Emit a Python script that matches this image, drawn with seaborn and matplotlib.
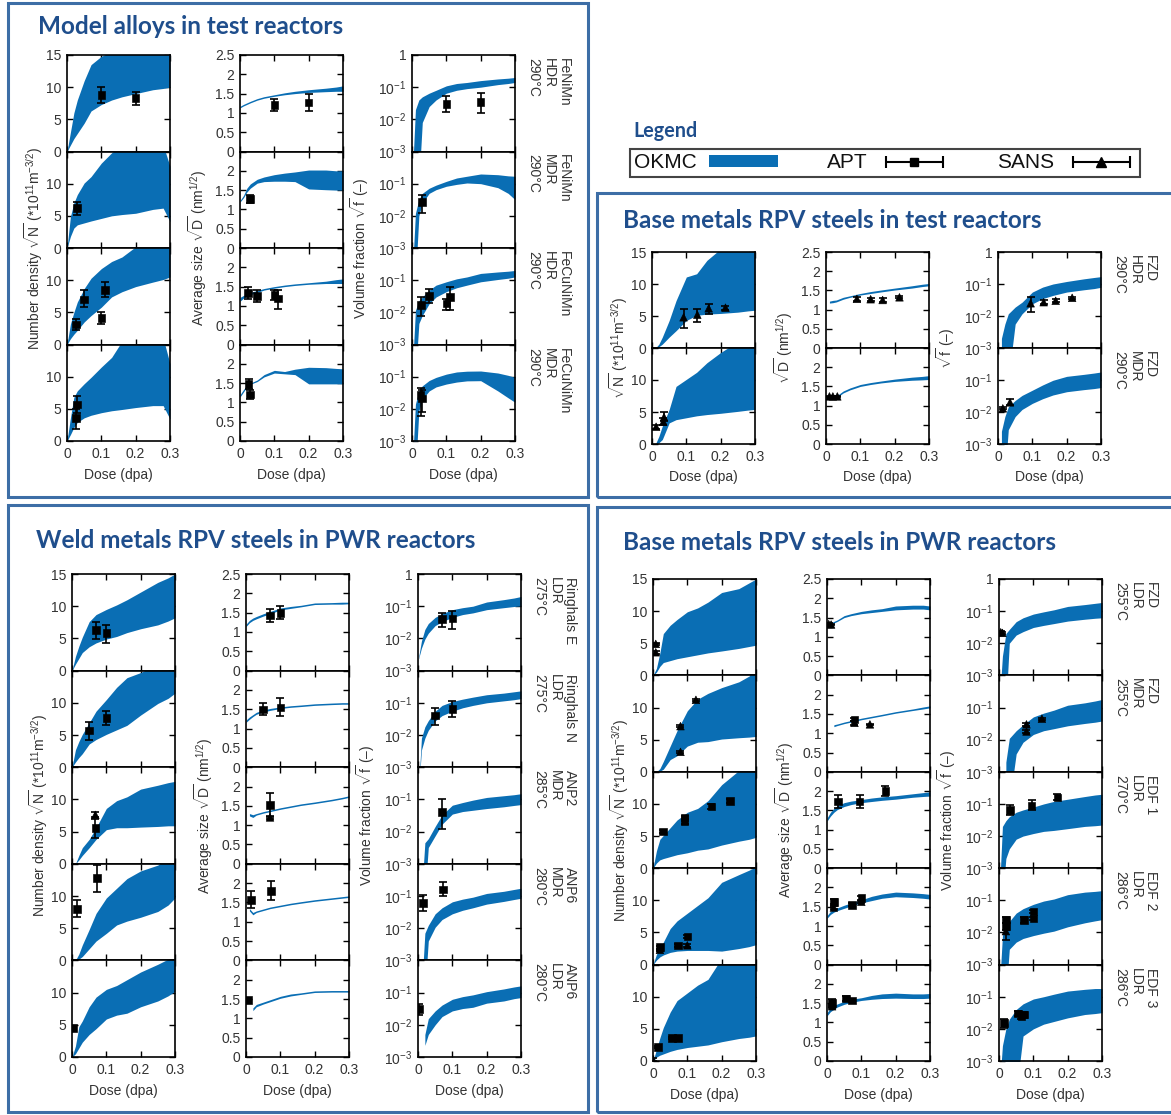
import numpy as np
import pandas as pd
import seaborn as sns
import matplotlib.pyplot as plt
from matplotlib.patches import Patch, Rectangle
from matplotlib.lines import Line2D
from matplotlib.legend_handler import HandlerLine2D, HandlerTuple
from matplotlib.ticker import NullLocator

nan = float("nan")

# dose grid shared by every OKMC band (dpa)
DOSE = [0, 0.01, 0.02, 0.03, 0.05, 0.07, 0.1, 0.13, 0.16, 0.2, 0.25, 0.28, 0.3]

MODEL_ROWS = ["FeNiMn HDR", "FeNiMn MDR", "FeCuNiMn HDR", "FeCuNiMn MDR"]
BASE_TEST_ROWS = ["FZD HDR 290", "FZD MDR 290"]
WELD_ROWS = ["Ringhals E", "Ringhals N", "ANP2 MDR", "ANP6 MDR", "ANP6 LDR"]
BASE_PWR_ROWS = ["FZD LDR 255", "FZD MDR 255", "EDF 1", "EDF 2", "EDF 3"]

ROW_LABELS = {
    "FeNiMn HDR": "FeNiMn\nHDR\n290°C",
    "FeNiMn MDR": "FeNiMn\nMDR\n290°C",
    "FeCuNiMn HDR": "FeCuNiMn\nHDR\n290°C",
    "FeCuNiMn MDR": "FeCuNiMn\nMDR\n290°C",
    "FZD HDR 290": "FZD\nHDR\n290°C",
    "FZD MDR 290": "FZD\nMDR\n290°C",
    "Ringhals E": "Ringhals E\nLDR\n275°C",
    "Ringhals N": "Ringhals N\nLDR\n275°C",
    "ANP2 MDR": "ANP2\nMDR\n285°C",
    "ANP6 MDR": "ANP6\nMDR\n280°C",
    "ANP6 LDR": "ANP6\nLDR\n280°C",
    "FZD LDR 255": "FZD\nLDR\n255°C",
    "FZD MDR 255": "FZD\nMDR\n255°C",
    "EDF 1": "EDF 1\nLDR\n270°C",
    "EDF 2": "EDF 2\nLDR\n286°C",
    "EDF 3": "EDF 3\nLDR\n286°C",
}

# OKMC number density band sqrt(N) (*1e11 m^-3/2)
N_LOW = {
    "FeNiMn HDR": [0, 1.0, 2.0, 2.8, 4.4, 6.3, 7.3, 8.0, 8.5, 9.0, 9.6, 9.8, 10.0],
    "FeNiMn MDR": [0, 1.8, 3.1, 3.6, 3.9, 4.2, 4.6, 5.0, 5.2, 5.4, 6.0, 6.2, 4.1],
    "FeCuNiMn HDR": [0, 0.9, 1.6, 2.2, 3.5, 4.5, 5.8, 7.4, 8.2, 9.0, 9.7, 10.1, 10.5],
    "FeCuNiMn MDR": [0, 1.0, 2.1, 2.9, 3.6, 4.0, 4.4, 4.7, 4.9, 5.2, 5.5, 5.5, 3.4],
    "FZD HDR 290": [0, 0, 0.2, 0.6, 1.7, 2.7, 4.3, 5.1, 5.3, 5.4, 5.6, 5.8, 5.9],
    "FZD MDR 290": [0, 0, 0.2, 0.7, 3.3, 3.8, 4.1, 4.4, 4.6, 4.8, 5.1, 5.3, 5.4],
    "Ringhals E": [0, 1.0, 1.9, 2.8, 3.7, 4.3, 4.9, 5.3, 5.9, 6.5, 7.1, 7.7, 8.2],
    "Ringhals N": [0, 0.8, 1.5, 2.1, 3.6, 4.3, 5.1, 5.8, 6.5, 8.1, 9.9, 10.7, 11.5],
    "ANP2 MDR": [0, 0, 0.6, 1.3, 2.5, 3.8, 5.3, 5.6, 5.6, 5.7, 5.8, 5.9, 5.9],
    "ANP6 MDR": [0, 0, 0.2, 0.6, 1.8, 3.0, 4.2, 5.5, 6.1, 6.7, 7.6, 8.6, 9.7],
    "ANP6 LDR": [0, 0.5, 1.4, 2.3, 3.5, 4.4, 5.9, 6.5, 6.8, 7.8, 8.7, 9.5, 10.2],
    "FZD LDR 255": [0, 0.5, 1.4, 2.0, 2.3, 2.6, 2.9, 3.2, 3.5, 3.8, 4.2, 4.5, 4.7],
    "FZD MDR 255": [0, 0, 0.1, 0.4, 1.9, 2.5, 4.0, 4.6, 4.7, 5.1, 5.3, 5.4, 5.5],
    "EDF 1": [0, 0.8, 1.3, 1.5, 1.8, 2.1, 2.4, 2.8, 3.0, 3.6, 4.2, 4.5, 4.8],
    "EDF 2": [0, 0.7, 1.2, 1.5, 1.9, 2.1, 2.2, 2.2, 2.2, 2.1, 2.5, 2.8, 3.1],
    "EDF 3": [0, 0.6, 0.9, 1.1, 1.5, 1.8, 2.1, 2.3, 2.5, 3.0, 3.5, 3.7, 3.9],
}
N_HIGH = {
    "FeNiMn HDR": [0, 3.0, 6.0, 8.0, 11.0, 13.5, 14.8, 15.5, 16, 16, 16, 16, 16],
    "FeNiMn MDR": [0, 4.9, 7.0, 8.3, 10.1, 11.1, 13.2, 14.8, 16, 16, 16, 16, 12.7],
    "FeCuNiMn HDR": [0, 3.2, 5.0, 6.6, 8.7, 10.3, 11.8, 12.9, 13.6, 15.2, 16, 16, 16],
    "FeCuNiMn MDR": [0, 3.6, 6.8, 7.8, 8.9, 9.9, 11.5, 13.0, 15.5, 16, 16, 16, 12.0],
    "FZD HDR 290": [0, 0, 0.6, 1.7, 4.3, 7.4, 11.1, 11.6, 13.7, 15.5, 16, 16, 16],
    "FZD MDR 290": [0, 0, 1.2, 2.8, 5.4, 9.0, 10.1, 11.2, 12.7, 14.3, 16, 16, 16],
    "Ringhals E": [0, 2.2, 3.8, 5.2, 7.6, 8.7, 9.5, 10.2, 11.0, 12.2, 13.7, 14.4, 15.0],
    "Ringhals N": [0, 2.7, 4.0, 5.1, 6.9, 8.7, 10.5, 12.4, 13.9, 14.7, 16, 16, 16],
    "ANP2 MDR": [0, 0, 1.3, 2.5, 3.8, 5.6, 8.6, 9.8, 10.4, 11.6, 12.2, 12.6, 12.8],
    "ANP6 MDR": [0, 0, 1.0, 2.4, 4.8, 7.3, 9.7, 11.2, 12.7, 13.9, 14.8, 16, 16],
    "ANP6 LDR": [0, 1.7, 4.7, 5.6, 7.8, 9.3, 10.5, 11.1, 12.0, 13.2, 14.4, 15.2, 16],
    "FZD LDR 255": [0, 1.1, 3.5, 6.5, 7.8, 8.7, 9.9, 10.5, 11.4, 12.9, 13.5, 14.4, 15.0],
    "FZD MDR 255": [0, 0, 0.5, 1.6, 4.0, 6.4, 9.5, 11.3, 12.2, 13.1, 14.0, 14.9, 16],
    "EDF 1": [0, 2.7, 4.5, 5.1, 6.3, 7.5, 8.7, 9.3, 10.5, 13.0, 15.2, 16, 16],
    "EDF 2": [0, 1.6, 2.5, 3.5, 5.6, 6.8, 8.0, 9.2, 10.4, 12.8, 14.0, 14.7, 15.2],
    "EDF 3": [0, 1.8, 3.6, 5.2, 7.6, 9.4, 10.6, 11.8, 12.7, 16, 16, 16, 16],
}

# OKMC average size band sqrt(D) (nm^1/2)
D_LOW = {
    "FeNiMn HDR": [1.13, 1.18, 1.22, 1.26, 1.33, 1.38, 1.43, 1.47, 1.50, 1.53, 1.55, 1.56, 1.56],
    "FeNiMn MDR": [1.19, 1.30, 1.45, 1.55, 1.68, 1.72, 1.73, 1.73, 1.72, 1.53, 1.51, 1.50, 1.50],
    "FeCuNiMn HDR": [1.12, 1.20, 1.25, 1.29, 1.35, 1.41, 1.46, 1.50, 1.53, 1.56, 1.58, 1.58, 1.58],
    "FeCuNiMn MDR": [1.14, 1.27, 1.40, 1.47, 1.54, 1.66, 1.76, 1.74, 1.72, 1.48, 1.48, 1.48, 1.48],
    "FZD HDR 290": [nan, 1.17, 1.18, 1.20, 1.27, 1.32, 1.38, 1.42, 1.46, 1.51, 1.56, 1.60, 1.62],
    "FZD MDR 290": [nan, nan, nan, 1.20, 1.33, 1.41, 1.50, 1.55, 1.59, 1.63, 1.66, 1.67, 1.68],
    "Ringhals E": [1.14, 1.24, 1.30, 1.34, 1.41, 1.47, 1.57, 1.61, 1.65, 1.71, 1.72, 1.72, 1.73],
    "Ringhals N": [1.16, 1.24, 1.31, 1.37, 1.43, 1.47, 1.52, 1.55, 1.57, 1.60, 1.62, 1.63, 1.63],
    "ANP2 MDR": [nan, 1.24, 1.20, 1.26, 1.31, 1.35, 1.41, 1.46, 1.51, 1.56, 1.63, 1.68, 1.72],
    "ANP6 MDR": [nan, 1.28, 1.18, 1.24, 1.29, 1.34, 1.39, 1.44, 1.48, 1.53, 1.58, 1.61, 1.63],
    "ANP6 LDR": [nan, nan, 1.20, 1.30, 1.37, 1.43, 1.52, 1.58, 1.62, 1.67, 1.68, 1.68, 1.68],
    "FZD LDR 255": [1.27, 1.32, 1.36, 1.40, 1.50, 1.55, 1.60, 1.63, 1.66, 1.70, 1.72, 1.72, 1.70],
    "FZD MDR 255": [nan, nan, 1.17, 1.20, 1.25, 1.29, 1.35, 1.40, 1.45, 1.52, 1.59, 1.63, 1.66],
    "EDF 1": [1.22, 1.35, 1.45, 1.52, 1.60, 1.65, 1.70, 1.73, 1.76, 1.79, 1.84, 1.86, 1.87],
    "EDF 2": [1.20, 1.30, 1.36, 1.40, 1.46, 1.52, 1.60, 1.66, 1.72, 1.76, 1.74, 1.72, 1.70],
    "EDF 3": [1.17, 1.28, 1.34, 1.40, 1.47, 1.52, 1.57, 1.60, 1.62, 1.63, 1.62, 1.62, 1.63],
}
D_HIGH = {
    "FeNiMn HDR": [1.17, 1.22, 1.26, 1.30, 1.37, 1.42, 1.47, 1.52, 1.56, 1.60, 1.64, 1.67, 1.70],
    "FeNiMn MDR": [1.23, 1.36, 1.55, 1.66, 1.78, 1.84, 1.90, 1.94, 1.97, 2.02, 2.02, 2.00, 2.00],
    "FeCuNiMn HDR": [1.22, 1.27, 1.31, 1.35, 1.40, 1.45, 1.50, 1.54, 1.57, 1.60, 1.64, 1.68, 1.70],
    "FeCuNiMn MDR": [1.20, 1.33, 1.45, 1.50, 1.58, 1.72, 1.83, 1.80, 1.86, 1.91, 1.90, 1.88, 1.87],
    "FZD HDR 290": [nan, 1.22, 1.24, 1.25, 1.32, 1.36, 1.42, 1.47, 1.51, 1.56, 1.62, 1.66, 1.68],
    "FZD MDR 290": [nan, nan, nan, 1.25, 1.38, 1.46, 1.55, 1.60, 1.64, 1.69, 1.74, 1.76, 1.78],
    "Ringhals E": [1.20, 1.30, 1.36, 1.40, 1.47, 1.53, 1.62, 1.66, 1.69, 1.75, 1.76, 1.77, 1.77],
    "Ringhals N": [1.22, 1.30, 1.36, 1.42, 1.48, 1.52, 1.56, 1.59, 1.61, 1.64, 1.66, 1.67, 1.67],
    "ANP2 MDR": [nan, 1.30, 1.27, 1.30, 1.35, 1.39, 1.45, 1.50, 1.55, 1.60, 1.67, 1.72, 1.76],
    "ANP6 MDR": [nan, 1.34, 1.24, 1.28, 1.33, 1.38, 1.43, 1.48, 1.52, 1.57, 1.62, 1.65, 1.67],
    "ANP6 LDR": [nan, nan, 1.27, 1.36, 1.42, 1.48, 1.57, 1.63, 1.66, 1.71, 1.72, 1.72, 1.72],
    "FZD LDR 255": [1.31, 1.36, 1.40, 1.44, 1.55, 1.60, 1.66, 1.70, 1.73, 1.80, 1.82, 1.82, 1.80],
    "FZD MDR 255": [nan, nan, 1.22, 1.24, 1.29, 1.33, 1.39, 1.44, 1.49, 1.56, 1.63, 1.68, 1.71],
    "EDF 1": [1.30, 1.45, 1.55, 1.62, 1.70, 1.74, 1.78, 1.82, 1.85, 1.88, 1.93, 1.96, 1.98],
    "EDF 2": [1.27, 1.38, 1.44, 1.47, 1.54, 1.60, 1.68, 1.77, 1.83, 1.88, 1.86, 1.84, 1.82],
    "EDF 3": [1.25, 1.38, 1.44, 1.48, 1.55, 1.60, 1.64, 1.70, 1.74, 1.76, 1.74, 1.74, 1.75],
}

# OKMC volume fraction band sqrt(f) (-)
F_LOW = {
    "FeNiMn HDR": [1e-4, 1e-4, 1e-4, 0.008, 0.025, 0.04, 0.065, 0.08, 0.09, 0.10, 0.12, 0.13, 0.14],
    "FeNiMn MDR": [1e-4, 1e-4, 0.010, 0.025, 0.05, 0.065, 0.083, 0.095, 0.105, 0.10, 0.075, 0.05, 0.032],
    "FeCuNiMn HDR": [1e-4, 1e-4, 0.0045, 0.008, 0.0186, 0.03, 0.044, 0.058, 0.07, 0.089, 0.105, 0.115, 0.126],
    "FeCuNiMn MDR": [1e-4, 1e-4, 0.0087, 0.02, 0.036, 0.048, 0.059, 0.068, 0.074, 0.075, 0.036, 0.022, 0.016],
    "FZD HDR 290": [nan, 1e-4, 1e-4, 1e-4, 0.0056, 0.0117, 0.024, 0.035, 0.044, 0.056, 0.066, 0.072, 0.079],
    "FZD MDR 290": [nan, 1e-4, 1e-4, 0.0028, 0.0072, 0.012, 0.0186, 0.026, 0.034, 0.043, 0.05, 0.054, 0.058],
    "Ringhals E": [0.002, 0.005, 0.0095, 0.0145, 0.025, 0.033, 0.045, 0.055, 0.062, 0.078, 0.09, 0.098, 0.102],
    "Ringhals N": [1e-4, 0.0034, 0.008, 0.014, 0.0275, 0.04, 0.055, 0.07, 0.083, 0.10, 0.115, 0.125, 0.135],
    "ANP2 MDR": [nan, 1e-4, 1e-4, 0.0032, 0.0074, 0.017, 0.035, 0.042, 0.046, 0.052, 0.059, 0.065, 0.069],
    "ANP6 MDR": [nan, 1e-4, 1e-4, 0.004, 0.0107, 0.0186, 0.028, 0.036, 0.043, 0.056, 0.068, 0.078, 0.085],
    "ANP6 LDR": [nan, nan, 0.0023, 0.005, 0.010, 0.018, 0.027, 0.032, 0.035, 0.047, 0.055, 0.065, 0.07],
    "FZD LDR 255": [1e-4, 1e-4, 1e-4, 0.010, 0.018, 0.023, 0.031, 0.036, 0.041, 0.049, 0.056, 0.06, 0.062],
    "FZD MDR 255": [nan, nan, 1e-4, 1e-4, 0.0036, 0.0083, 0.0145, 0.019, 0.022, 0.027, 0.032, 0.035, 0.038],
    "EDF 1": [1e-4, 1e-4, 0.002, 0.004, 0.008, 0.010, 0.012, 0.014, 0.015, 0.017, 0.020, 0.021, 0.022],
    "EDF 2": [1e-4, 1e-4, 1e-4, 0.003, 0.005, 0.0065, 0.008, 0.0095, 0.011, 0.015, 0.020, 0.023, 0.025],
    "EDF 3": [1e-4, 1e-4, 1e-4, 1e-4, 1e-4, 0.006, 0.010, 0.014, 0.017, 0.022, 0.028, 0.030, 0.032],
}
F_HIGH = {
    "FeNiMn HDR": [1e-4, 0.02, 0.04, 0.05, 0.065, 0.08, 0.11, 0.13, 0.14, 0.16, 0.18, 0.19, 0.20],
    "FeNiMn MDR": [1e-4, 0.012, 0.032, 0.05, 0.072, 0.09, 0.118, 0.15, 0.17, 0.20, 0.19, 0.175, 0.17],
    "FeCuNiMn HDR": [1e-4, 0.0115, 0.023, 0.03, 0.049, 0.07, 0.089, 0.11, 0.126, 0.162, 0.18, 0.19, 0.20],
    "FeCuNiMn MDR": [1e-4, 0.014, 0.036, 0.052, 0.076, 0.095, 0.12, 0.14, 0.148, 0.15, 0.13, 0.11, 0.095],
    "FZD HDR 290": [nan, 0.002, 0.0056, 0.0117, 0.019, 0.027, 0.056, 0.08, 0.10, 0.12, 0.145, 0.16, 0.17],
    "FZD MDR 290": [nan, 0.0025, 0.0072, 0.0145, 0.023, 0.033, 0.048, 0.07, 0.098, 0.13, 0.15, 0.165, 0.178],
    "Ringhals E": [0.002, 0.0083, 0.019, 0.029, 0.045, 0.059, 0.078, 0.09, 0.10, 0.135, 0.16, 0.18, 0.20],
    "Ringhals N": [1e-4, 0.008, 0.018, 0.028, 0.055, 0.083, 0.11, 0.13, 0.15, 0.178, 0.20, 0.22, 0.235],
    "ANP2 MDR": [nan, 1e-4, 0.0045, 0.006, 0.0145, 0.033, 0.066, 0.08, 0.095, 0.115, 0.13, 0.14, 0.15],
    "ANP6 MDR": [nan, 1e-4, 0.007, 0.0123, 0.028, 0.043, 0.066, 0.08, 0.092, 0.12, 0.14, 0.16, 0.174],
    "ANP6 LDR": [nan, nan, 0.005, 0.0155, 0.027, 0.041, 0.062, 0.075, 0.085, 0.107, 0.13, 0.15, 0.162],
    "FZD LDR 255": [1e-4, 0.004, 0.02, 0.027, 0.047, 0.062, 0.081, 0.095, 0.11, 0.14, 0.16, 0.175, 0.186],
    "FZD MDR 255": [nan, nan, 0.002, 0.011, 0.019, 0.029, 0.051, 0.067, 0.083, 0.118, 0.14, 0.16, 0.178],
    "EDF 1": [1e-4, 0.02, 0.03, 0.04, 0.055, 0.065, 0.08, 0.10, 0.12, 0.14, 0.17, 0.19, 0.20],
    "EDF 2": [1e-4, 0.008, 0.015, 0.022, 0.04, 0.055, 0.075, 0.095, 0.11, 0.15, 0.18, 0.19, 0.20],
    "EDF 3": [1e-4, 0.003, 0.01, 0.02, 0.04, 0.06, 0.085, 0.10, 0.12, 0.15, 0.17, 0.18, 0.18],
}

# measurements: (dose, value, error low, error high)
APT_N = {
    "FeNiMn HDR": [(0.1, 8.8, 7.5, 10.1), (0.2, 8.3, 7.3, 9.3)],
    "FeNiMn MDR": [(0.03, 6.2, 5.2, 7.1)],
    "FeCuNiMn HDR": [(0.026, 3.1, 2.2, 4.0), (0.05, 7.0, 5.8, 8.4), (0.1, 4.1, 3.2, 5.1), (0.11, 8.5, 7.4, 9.7)],
    "FeCuNiMn MDR": [(0.027, 3.6, 1.9, 5.0), (0.03, 5.7, 4.4, 7.0)],
    "Ringhals E": [(0.07, 6.3, 4.9, 7.6), (0.1, 5.8, 4.3, 7.1)],
    "Ringhals N": [(0.05, 5.7, 4.2, 7.0), (0.1, 7.6, 6.6, 8.7)],
    "ANP2 MDR": [(0.068, 5.6, 4.0, 7.0)],
    "ANP6 MDR": [(0.015, 8.0, 6.7, 9.4), (0.072, 12.8, 10.6, 14.8)],
    "ANP6 LDR": [(0.003, 4.5, 4.2, 4.8)],
    "EDF 1": [(0.03, 5.7, 5.4, 6.0), (0.092, 7.3, 6.9, 7.7), (0.092, 7.9, 7.6, 8.2),
              (0.17, 9.6, 9.2, 10.0), (0.225, 10.5, 10.2, 10.8)],
    "EDF 2": [(0.02, 2.7, 2.5, 2.9), (0.072, 3.0, 2.8, 3.2), (0.1, 4.4, 4.2, 4.6)],
    "EDF 3": [(0.015, 2.2, 2.0, 2.4), (0.055, 3.6, 3.4, 3.8), (0.072, 3.6, 3.4, 3.8)],
}
SANS_N = {
    "FZD HDR 290": [(0.092, 4.8, 3.2, 6.1), (0.132, 5.2, 4.0, 6.1), (0.165, 6.2, 5.3, 6.9), (0.214, 6.3, 6.0, 6.6)],
    "FZD MDR 290": [(0.012, 2.7, 2.4, 3.0), (0.033, 3.5, 3.0, 4.0), (0.035, 4.2, 3.6, 5.0)],
    "ANP2 MDR": [(0.068, 7.6, 7.2, 8.0)],
    "FZD LDR 255": [(0.008, 4.9, 4.7, 5.1), (0.008, 3.6, 3.4, 3.8)],
    "FZD MDR 255": [(0.08, 7.1, 6.9, 7.3), (0.08, 3.1, 2.9, 3.3), (0.125, 11.2, 11.0, 11.4)],
    "EDF 2": [(0.02, 2.3, 2.1, 2.5), (0.1, 3.0, 2.8, 3.2)],
    "EDF 3": [(0.0, 0.2, 0.0, 0.4)],
}
APT_D = {
    "FeNiMn HDR": [(0.1, 1.2, 1.05, 1.35), (0.2, 1.27, 1.05, 1.49)],
    "FeNiMn MDR": [(0.03, 1.27, 1.17, 1.38)],
    "FeCuNiMn HDR": [(0.024, 1.34, 1.19, 1.5), (0.05, 1.26, 1.1, 1.41), (0.1, 1.28, 1.16, 1.4), (0.11, 1.19, 0.93, 1.41)],
    "FeCuNiMn MDR": [(0.025, 1.47, 1.35, 1.6), (0.03, 1.2, 1.08, 1.33)],
    "Ringhals E": [(0.07, 1.43, 1.27, 1.6), (0.1, 1.49, 1.33, 1.67)],
    "Ringhals N": [(0.05, 1.49, 1.35, 1.66), (0.1, 1.55, 1.33, 1.8)],
    "ANP2 MDR": [(0.07, 1.52, 1.2, 1.83)],
    "ANP6 MDR": [(0.015, 1.56, 1.36, 1.8), (0.072, 1.8, 1.56, 2.06)],
    "ANP6 LDR": [(0.005, 1.47, 1.44, 1.5)],
    "FZD MDR 255": [(0.08, 1.36, 1.32, 1.4)],
    "EDF 1": [(0.032, 1.73, 1.55, 1.9), (0.095, 1.73, 1.57, 1.9), (0.17, 2.0, 1.88, 2.12)],
    "EDF 2": [(0.02, 1.63, 1.57, 1.69), (0.072, 1.55, 1.51, 1.59), (0.1, 1.72, 1.65, 1.79)],
    "EDF 3": [(0.015, 1.5, 1.4, 1.6), (0.055, 1.62, 1.56, 1.68), (0.072, 1.57, 1.53, 1.61)],
}
SANS_D = {
    "FZD HDR 290": [(0.09, 1.28, 1.22, 1.33), (0.13, 1.27, 1.23, 1.31), (0.165, 1.25, 1.2, 1.3), (0.214, 1.32, 1.29, 1.35)],
    "FZD MDR 290": [(0.01, 1.24, 1.22, 1.26), (0.02, 1.24, 1.22, 1.26), (0.033, 1.24, 1.22, 1.26)],
    "ANP2 MDR": [(0.07, 1.2, 1.17, 1.23)],
    "FZD LDR 255": [(0.005, 1.33, 1.31, 1.35), (0.012, 1.32, 1.3, 1.34)],
    "FZD MDR 255": [(0.08, 1.27, 1.22, 1.32), (0.125, 1.23, 1.21, 1.25)],
    "EDF 2": [(0.02, 1.48, 1.44, 1.52), (0.1, 1.63, 1.59, 1.67)],
    "EDF 3": [(0.015, 1.42, 1.38, 1.46)],
}
APT_F = {
    "FeNiMn HDR": [(0.1, 0.03, 0.017, 0.052), (0.2, 0.035, 0.016, 0.068)],
    "FeNiMn MDR": [(0.03, 0.027, 0.012, 0.045)],
    "FeCuNiMn HDR": [(0.026, 0.017, 0.0075, 0.03), (0.05, 0.032, 0.019, 0.053), (0.1, 0.019, 0.0115, 0.026), (0.11, 0.03, 0.0115, 0.06)],
    "FeCuNiMn MDR": [(0.025, 0.027, 0.006, 0.045), (0.03, 0.021, 0.008, 0.038)],
    "Ringhals E": [(0.07, 0.04, 0.023, 0.06), (0.1, 0.042, 0.02, 0.072)],
    "Ringhals N": [(0.05, 0.04, 0.02, 0.07), (0.1, 0.065, 0.035, 0.11)],
    "ANP2 MDR": [(0.07, 0.042, 0.012, 0.1)],
    "ANP6 MDR": [(0.015, 0.06, 0.035, 0.11), (0.072, 0.16, 0.1, 0.28)],
    "ANP6 LDR": [(0.003, 0.03, 0.02, 0.045)],
    "EDF 1": [(0.032, 0.065, 0.045, 0.09), (0.095, 0.09, 0.065, 0.13), (0.17, 0.16, 0.13, 0.2)],
    "EDF 2": [(0.02, 0.025, 0.02, 0.03), (0.02, 0.016, 0.012, 0.02), (0.072, 0.024, 0.02, 0.03),
              (0.1, 0.045, 0.04, 0.05), (0.1, 0.027, 0.024, 0.03)],
    "EDF 3": [(0.015, 0.015, 0.011, 0.02), (0.055, 0.03, 0.025, 0.035), (0.065, 0.025, 0.02, 0.032), (0.072, 0.028, 0.022, 0.034)],
}
SANS_F = {
    "FZD HDR 290": [(0.095, 0.025, 0.013, 0.038), (0.133, 0.027, 0.024, 0.031), (0.168, 0.03, 0.027, 0.034), (0.216, 0.037, 0.034, 0.04)],
    "FZD MDR 290": [(0.014, 0.013, 0.012, 0.014), (0.035, 0.02, 0.016, 0.026)],
    "FZD LDR 255": [(0.005, 0.022, 0.02, 0.024), (0.01, 0.021, 0.019, 0.023)],
    "FZD MDR 255": [(0.08, 0.03, 0.027, 0.033), (0.08, 0.018, 0.016, 0.02), (0.125, 0.045, 0.042, 0.048)],
    "EDF 2": [(0.02, 0.011, 0.006, 0.02)],
}

BLUE = "#0A6EB4"
TITLE_BLUE = "#1F4E8C"
BOX_BLUE = "#3D6EA6"
TEXT = "#333333"

W, H = 1171, 1115

sns.set_theme(style="ticks")
plt.rcParams.update({
    "font.family": ["Liberation Sans", "DejaVu Sans"],
    "mathtext.fontset": "custom",
    "mathtext.rm": "Liberation Sans",
    "mathtext.it": "Liberation Sans:italic",
    "mathtext.bf": "Liberation Sans:bold",
    "xtick.direction": "in", "ytick.direction": "in",
    "xtick.top": True, "ytick.right": True,
    "xtick.major.size": 4, "ytick.major.size": 4,
    "xtick.major.width": 1.0, "ytick.major.width": 1.0,
    "axes.linewidth": 1.2, "axes.edgecolor": "black",
    "xtick.color": "black", "ytick.color": "black",
    "xtick.labelcolor": TEXT, "ytick.labelcolor": TEXT,
    "xtick.labelsize": 10, "ytick.labelsize": 10,
})

fig = plt.figure(figsize=(W / 100, H / 100), dpi=100)
fig.patch.set_facecolor("white")

QUANTITIES = [
    ("N", N_LOW, N_HIGH, APT_N, SANS_N),
    ("D", D_LOW, D_HIGH, APT_D, SANS_D),
    ("f", F_LOW, F_HIGH, APT_F, SANS_F),
]
LONG_LABELS = [r"Number density $\sqrt{\mathrm{N}}$ (*10$^{11}$m$^{-3/2}$)",
               r"Average size $\sqrt{\mathrm{D}}$ (nm$^{1/2}$)",
               r"Volume fraction $\sqrt{\mathrm{f}}$ (–)"]
SHORT_LABELS = [r"$\sqrt{\mathrm{N}}$ (*10$^{11}$m$^{-3/2}$)",
                r"$\sqrt{\mathrm{D}}$ (nm$^{1/2}$)",
                r"$\sqrt{\mathrm{f}}$ (–)"]
YTICKS = [[0, 5, 10, 15], [0, 0.5, 1, 1.5, 2, 2.5], [1e-3, 1e-2, 1e-1, 1]]
YTICKLABELS = [["0", "5", "10", "15"], ["0", "0.5", "1", "1.5", "2", "2.5"],
               ["10$^{-3}$", "10$^{-2}$", "10$^{-1}$", "1"]]
YLIMS = [(0, 15), (0, 2.5), (1e-3, 1)]
LABEL_OFFSET = [33, 42, 52]
AX_W = 103

PANELS = [
    dict(title="Model alloys in test reactors", txy=(38, 26), box=(8, 3, 588, 497),
         rows=MODEL_ROWS, cols=(67, 240, 412), top=55, bottom=441, labels=LONG_LABELS),
    dict(title="Base metals RPV steels in test reactors", txy=(623, 220), box=(597, 193, 1180, 497),
         rows=BASE_TEST_ROWS, cols=(652, 826, 998), top=252, bottom=444, labels=SHORT_LABELS),
    dict(title="Weld metals RPV steels in PWR reactors", txy=(36, 540), box=(8, 505, 588, 1112),
         rows=WELD_ROWS, cols=(72, 246, 418), top=574, bottom=1057, labels=LONG_LABELS),
    dict(title="Base metals RPV steels in PWR reactors", txy=(623, 542), box=(597, 507, 1180, 1112),
         rows=BASE_PWR_ROWS, cols=(653, 827, 999), top=579, bottom=1061, labels=LONG_LABELS),
]


def add_px_axes(x0, y0, w, h):
    return fig.add_axes([x0 / W, 1 - (y0 + h) / H, w / W, h / H])


def draw_cell(ax, key, q):
    name, low, high, apt, sans = QUANTITIES[q]
    ax.fill_between(DOSE, np.array(low[key], float), np.array(high[key], float),
                    color=BLUE, lw=0, zorder=1)
    rows = [(d, v, lo, hi, "APT") for d, v, lo, hi in apt.get(key, [])]
    rows += [(d, v, lo, hi, "SANS") for d, v, lo, hi in sans.get(key, [])]
    if rows:
        df = pd.DataFrame(rows, columns=["dose", "value", "low", "high", "method"])
        ax.errorbar(df["dose"], df["value"],
                    yerr=[df["value"] - df["low"], df["high"] - df["value"]],
                    fmt="none", ecolor="black", elinewidth=1.2, capsize=3, capthick=1.2, zorder=3)
        sns.scatterplot(data=df, x="dose", y="value", style="method",
                        markers={"APT": "s", "SANS": "^"}, color="black", edgecolor="black",
                        s=30, legend=False, ax=ax, zorder=4)
    ax.set_xlabel("")
    ax.set_ylabel("")


for p in PANELS:
    x0, y0, x1, y1 = p["box"]
    fig.patches.append(Rectangle((x0 / W, 1 - y1 / H), (x1 - x0) / W, (y1 - y0) / H,
                                 transform=fig.transFigure, fill=False,
                                 edgecolor=BOX_BLUE, lw=2.2, zorder=0))
    fig.text(p["txy"][0] / W, 1 - p["txy"][1] / H, p["title"], fontsize=17.5,
             fontweight="bold", family="Lato", color=TITLE_BLUE, ha="left", va="center")
    nrows = len(p["rows"])
    row_h = (p["bottom"] - p["top"]) / nrows
    for c in range(3):
        for r, key in enumerate(p["rows"]):
            ax = add_px_axes(p["cols"][c], p["top"] + r * row_h, AX_W, row_h)
            draw_cell(ax, key, c)
            if c == 2:
                ax.set_yscale("log")
                ax.yaxis.set_minor_locator(NullLocator())
            ax.set_xlim(0, 0.3)
            ax.set_ylim(*YLIMS[c])
            ax.set_yticks(YTICKS[c])
            labels = list(YTICKLABELS[c])
            if r > 0:
                labels[-1] = ""
            ax.set_yticklabels(labels)
            ax.set_xticks([0, 0.1, 0.2, 0.3])
            ax.tick_params(axis="both", which="major", pad=4)
            if r == nrows - 1:
                ax.set_xticklabels(["0", "0.1", "0.2", "0.3"])
                ax.set_xlabel("Dose (dpa)", fontsize=10, color=TEXT, labelpad=5)
            else:
                ax.set_xticklabels([])
            if c == 2:
                ax.text(1.0 + 11 / AX_W, 1 - 3 / row_h, ROW_LABELS[key], transform=ax.transAxes,
                        rotation=270, ha="left", va="top", fontsize=10, color=TEXT,
                        linespacing=1.15)
        fig.text((p["cols"][c] - LABEL_OFFSET[c]) / W, 1 - (p["top"] + p["bottom"]) / 2 / H,
                 p["labels"][c], rotation=90, ha="center", va="center", fontsize=10, color=TEXT)

# legend block
fig.text(633 / W, 1 - 131 / H, "Legend", fontsize=14.2, fontweight="bold", family="Lato",
         color=TITLE_BLUE, ha="left", va="center")
okmc = Patch(facecolor=BLUE, edgecolor="none")
cap_a = Line2D([], [], color="black", lw=1.5, marker="|", markersize=9, mew=1.5)
cap_s = Line2D([], [], color="black", lw=1.5, marker="|", markersize=9, mew=1.5)
mark_a = Line2D([], [], color="black", lw=0, marker="s", markersize=6)
mark_s = Line2D([], [], color="black", lw=0, marker="^", markersize=7)
leg = fig.legend([okmc, (cap_a, mark_a), (cap_s, mark_s)], ["OKMC", "APT", "SANS"],
                 ncol=3, loc="center", mode="expand", markerfirst=False,
                 bbox_to_anchor=(630 / W, 1 - 176 / H, 510 / W, 26 / H), borderaxespad=0,
                 handlelength=3.3, handleheight=0.5, handletextpad=0.6, columnspacing=2.5,
                 fontsize=15, frameon=True, fancybox=False, framealpha=1, borderpad=0.2,
                 edgecolor="#444444",
                 handler_map={cap_a: HandlerLine2D(numpoints=2), cap_s: HandlerLine2D(numpoints=2),
                              mark_a: HandlerLine2D(numpoints=1), mark_s: HandlerLine2D(numpoints=1),
                              tuple: HandlerTuple(ndivide=1, pad=0)})
leg.get_frame().set_linewidth(1.5)
for t in leg.get_texts():
    t.set_color("#111111")

fig.savefig("out.png", dpi=100, facecolor="white")
